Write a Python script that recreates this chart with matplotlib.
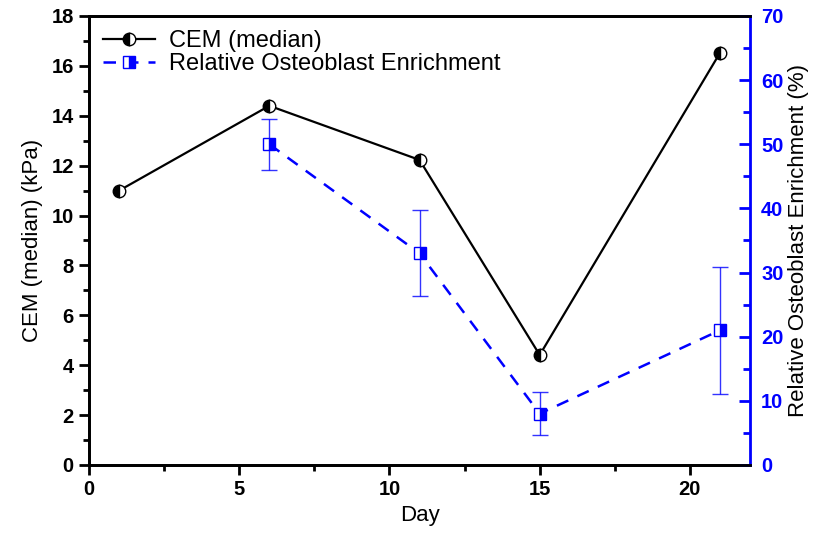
import numpy as np
import matplotlib.pyplot as plt

plt.rcParams['font.family'] = ['Liberation Sans', 'DejaVu Sans']

# data
days_cem = [1, 6, 11, 15, 21]
cem_median = [11.0, 14.4, 12.23, 4.41, 16.52]

days_enr = [6, 11, 15, 21]
enrichment = [50.0, 33.0, 8.0, 21.0]
enrichment_err = [4.0, 6.7, 3.4, 9.9]

BLUE = '#0000ff'

fig = plt.figure(figsize=(8.17, 5.33), dpi=100)
ax = fig.add_axes([0.109, 0.1276, 0.809, 0.8424])
ax2 = ax.twinx()

# ... left axis: CEM ...
l1, = ax.plot(days_cem, cem_median, '-', color='black', lw=1.6,
              marker='o', ms=9, fillstyle='left', markerfacecolor='black',
              markerfacecoloralt='white', markeredgecolor='black', mew=1.0,
              label='CEM (median)', zorder=3)

# ... right axis: enrichment ...
ax2.errorbar(days_enr, enrichment, yerr=enrichment_err, fmt='none',
             ecolor=BLUE, elinewidth=1.0, capsize=6, capthick=1.0, alpha=0.8)
l2, = ax2.plot(days_enr, enrichment, '--', color=BLUE, lw=1.8, dashes=(5, 4),
               marker='s', ms=8, fillstyle='right', markerfacecolor=BLUE,
               markerfacecoloralt='white', markeredgecolor=BLUE, mew=1.0,
               label='Relative Osteoblast Enrichment')

ax.set_xlim(0, 22)
ax.set_ylim(0, 18)
ax2.set_ylim(0, 70)
ax.set_xticks([0, 5, 10, 15, 20])
ax.set_xticks([2.5, 7.5, 12.5, 17.5], minor=True)
ax.set_yticks(np.arange(0, 19, 2))
ax.set_yticks(np.arange(1, 18, 2), minor=True)
ax2.set_yticks(np.arange(0, 71, 10))
ax2.set_yticks(np.arange(5, 70, 10), minor=True)

for a in (ax, ax2):
    for s in a.spines.values():
        s.set_linewidth(2.0)
    a.tick_params(which='major', direction='out', length=7, width=2.0,
                  labelsize=14.5, pad=4)
    a.tick_params(which='minor', direction='out', length=4, width=2.0)
    for lab in a.get_xticklabels() + a.get_yticklabels():
        lab.set_fontweight('bold')

# right axis ticks point inward, blue
ax2.spines['right'].set_color(BLUE)
ax2.tick_params(axis='y', which='major', direction='in', length=8, pad=8)
ax2.tick_params(axis='y', which='minor', direction='in', length=5)
ax2.tick_params(axis='y', which='both', colors=BLUE)
ax.spines['right'].set_visible(False)

ax.set_xlabel('Day', fontsize=16, labelpad=4)
ax.set_ylabel('CEM (median) (kPa)', fontsize=16, labelpad=6)
ax2.set_ylabel('Relative Osteoblast Enrichment (%)', fontsize=16,
               color='black', labelpad=3)

ax.legend(handles=[l1, l2], loc='upper left', frameon=False, fontsize=17,
          handlelength=2.2, handletextpad=0.6, borderaxespad=0.2,
          labelspacing=0.05)

fig.savefig('out.png', dpi=100)
